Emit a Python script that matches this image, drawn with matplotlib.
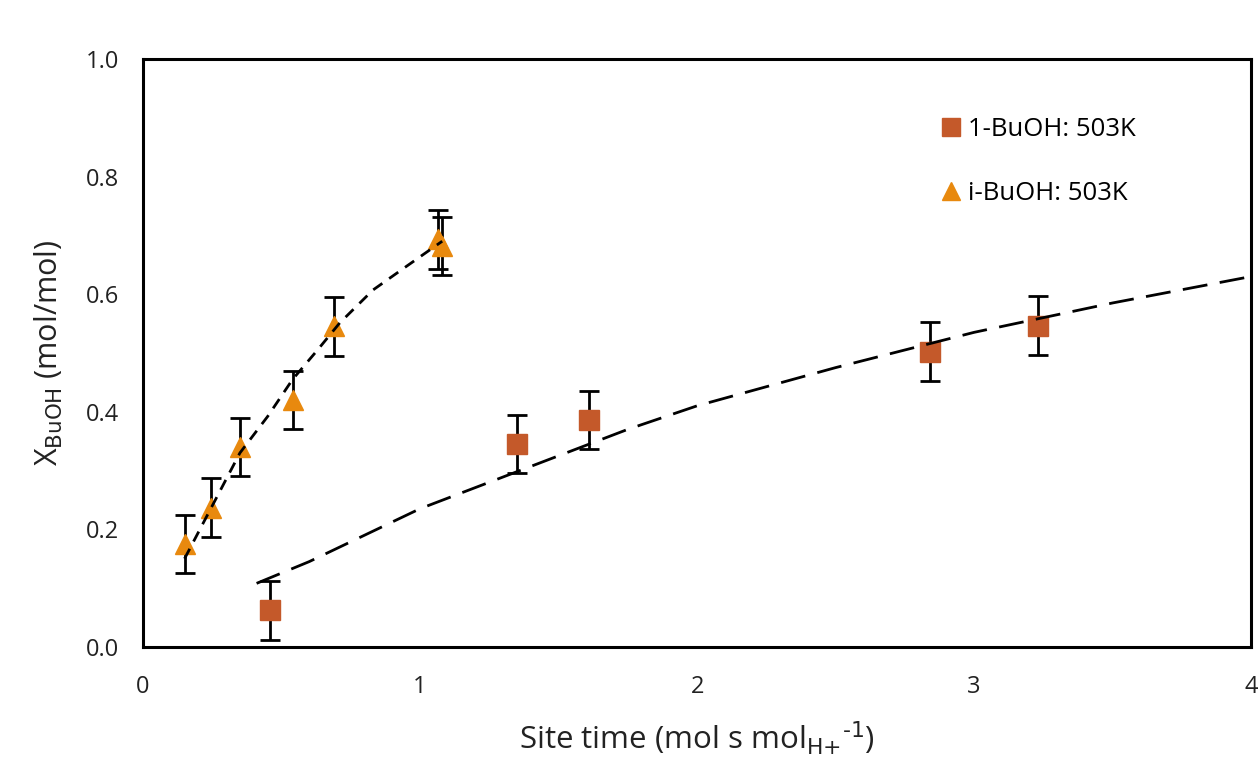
import matplotlib
matplotlib.use('Agg')
import matplotlib.pyplot as plt

plt.rcParams['font.family'] = 'Open Sans'
plt.rcParams['mathtext.default'] = 'regular'

# measured points
t_1buoh = [0.46, 1.35, 1.61, 2.84, 3.23]
x_1buoh = [0.062, 0.345, 0.386, 0.502, 0.546]
err_1buoh = [0.05, 0.05, 0.05, 0.05, 0.05]

t_ibuoh = [0.15, 0.245, 0.35, 0.54, 0.69, 1.065, 1.08]
x_ibuoh = [0.175, 0.237, 0.34, 0.42, 0.545, 0.693, 0.682]
err_ibuoh = [0.05, 0.05, 0.05, 0.05, 0.05, 0.05, 0.05]

# fitted curves
fit_t_1 = [0.41, 0.6, 0.8, 1.0, 1.25, 1.5, 1.75, 2.0, 2.5, 3.0, 3.5, 4.0]
fit_x_1 = [0.108, 0.145, 0.19, 0.235, 0.28, 0.325, 0.37, 0.41, 0.475, 0.535, 0.585, 0.63]
fit_t_i = [0.15, 0.23, 0.35, 0.45, 0.54, 0.63, 0.71, 0.83, 0.95, 1.08]
fit_x_i = [0.15, 0.222, 0.33, 0.392, 0.455, 0.505, 0.551, 0.607, 0.647, 0.69]

c_sq = '#C4592A'
c_tri = '#E8890E'

fig = plt.figure(figsize=(12.6, 7.61), dpi=100)
ax = fig.add_axes([0.1135, 0.150, 0.8795, 0.7725])

ax.errorbar(t_1buoh, x_1buoh, yerr=err_1buoh, fmt='none', ecolor='black',
            elinewidth=2, capsize=7, capthick=2, zorder=2)
ax.errorbar(t_ibuoh, x_ibuoh, yerr=err_ibuoh, fmt='none', ecolor='black',
            elinewidth=2, capsize=7, capthick=2, zorder=2)

ax.plot(t_1buoh, x_1buoh, 's', color=c_sq, markersize=14, label='1-BuOH: 503K', zorder=3)
ax.plot(t_ibuoh, x_ibuoh, '^', color=c_tri, markersize=15, label='i-BuOH: 503K', zorder=3)

ax.plot(fit_t_1, fit_x_1, color='black', linewidth=2, dashes=(9, 4.5), zorder=4)
ax.plot(fit_t_i, fit_x_i, color='black', linewidth=2, dashes=(4, 3), zorder=4)

ax.set_xlim(0, 4)
ax.set_ylim(0, 1.0)
ax.set_xticks([0, 1, 2, 3, 4])
ax.set_yticks([0, 0.2, 0.4, 0.6, 0.8, 1.0])
ax.set_yticklabels(['0.0', '0.2', '0.4', '0.6', '0.8', '1.0'])
ax.tick_params(length=0, labelsize=17, colors='#222222')
ax.tick_params(axis='x', pad=20)
ax.tick_params(axis='y', pad=17)
for s in ax.spines.values():
    s.set_linewidth(2.2)

ax.set_xlabel(r'Site time (mol s mol$_{\text{H+}}$$^{\text{-1}}$)', fontsize=22.5,
              color='#222222', labelpad=15)
ax.set_ylabel(r'X$_{\text{BuOH}}$ (mol/mol)', fontsize=22, color='#222222', labelpad=15)

ax.legend(loc='upper left', bbox_to_anchor=(0.7, 0.94), frameon=False, fontsize=18.5,
          handlelength=0.7, handletextpad=0.3, labelspacing=1.5, markerscale=0.9)

fig.savefig('out.png', dpi=100)
